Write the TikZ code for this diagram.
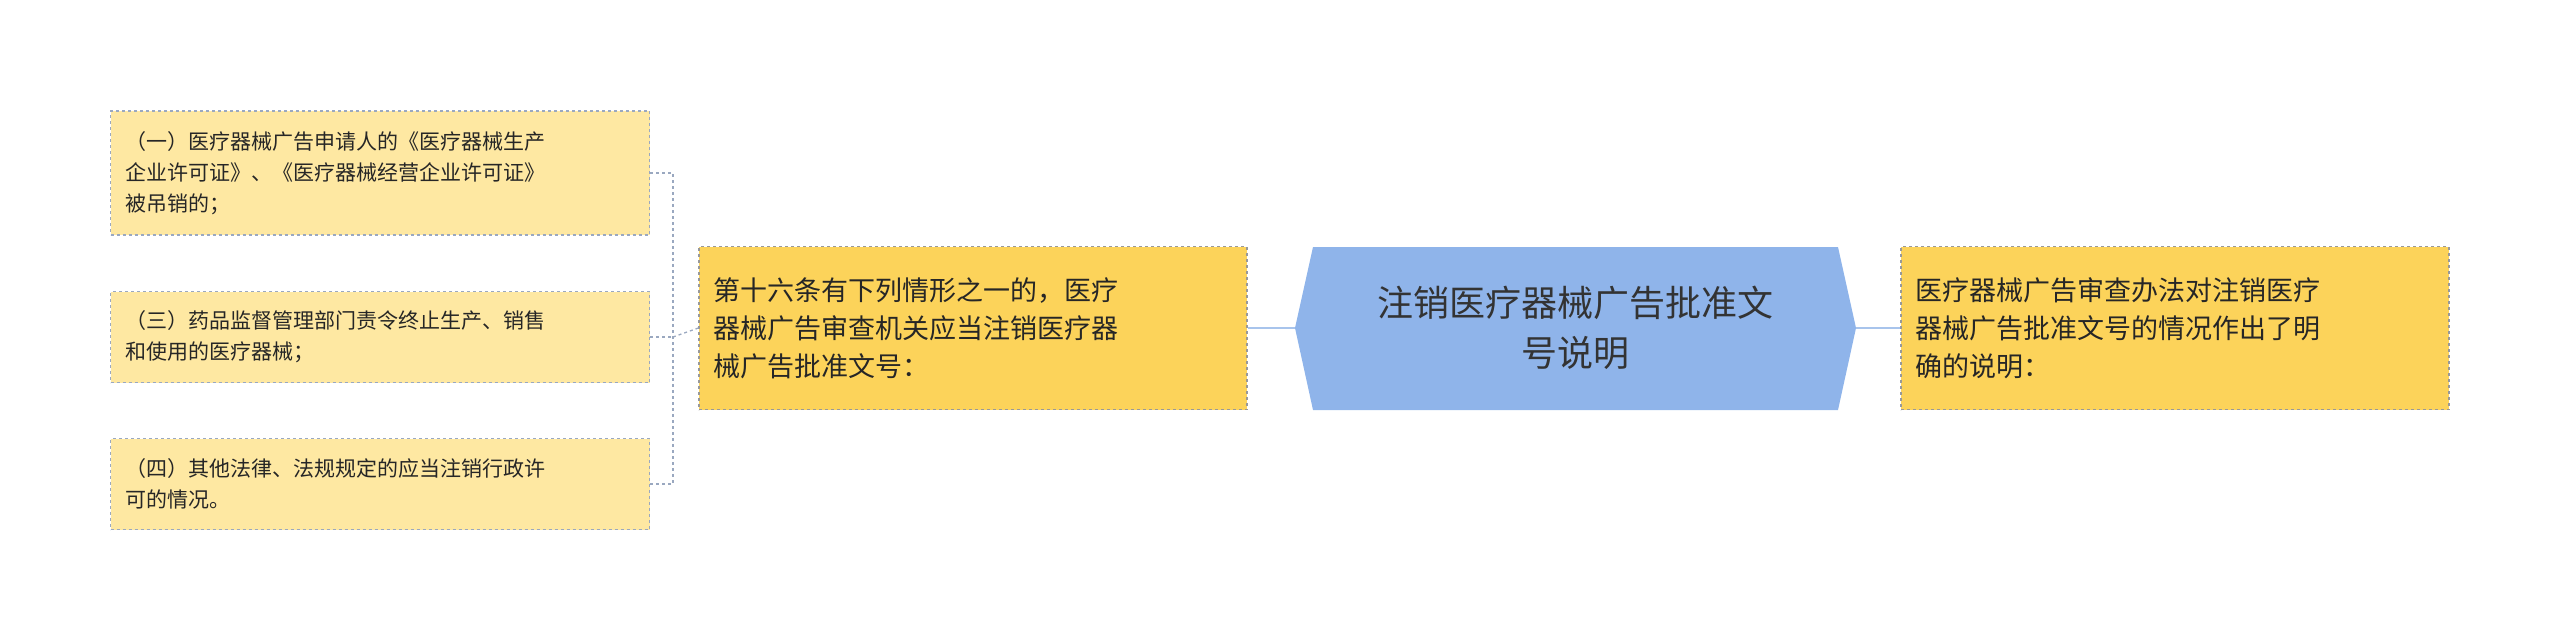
\documentclass[tikz,border=0pt]{standalone}
\usepackage{fontspec}
\setmainfont{Noto Sans CJK SC}
\XeTeXlinebreaklocale "zh"
\XeTeXlinebreakskip = 0pt plus 1pt
\definecolor{cblue}{HTML}{8FB4EA}
\definecolor{cgold}{HTML}{FCD35A}
\definecolor{cleaf}{HTML}{FEE8A2}
\definecolor{cline}{HTML}{A8C4EC}
\definecolor{cdash}{HTML}{9AA8C0}
\begin{document}
\begin{tikzpicture}[x=1pt,y=-1pt,
  gold/.style={draw=gray!80,dashed,fill=cgold,line width=1.3pt,minimum width=548,minimum height=163,text width=520,align=left,font=\fontsize{27}{38}\selectfont,anchor=center,text=black!85},
  leaf/.style={draw=cdash,dashed,fill=cleaf,line width=1.3pt,minimum width=539,text width=510,align=left,font=\fontsize{21}{31}\selectfont,anchor=center,text=black!85},
  conn/.style={draw=cline,line width=2.5pt},
  bconn/.style={draw=cdash,dashed,line width=1.3pt}]
\useasboundingbox (0,0) rectangle (2560,640);
\path[fill=cblue] (1295,328) -- (1313,247) -- (1838,247) -- (1856,328) -- (1838,410) -- (1313,410) -- cycle;
\node (c) [align=center,font=\fontsize{36}{50}\selectfont,text=black!80] at (1575,328) {注销医疗器械广告批准文\\号说明};
\node (r) [gold] at (2175,328) {医疗器械广告审查办法对注销医疗\\器械广告批准文号的情况作出了明\\确的说明：};
\node (m) [gold] at (973,328) {第十六条有下列情形之一的，医疗\\器械广告审查机关应当注销医疗器\\械广告批准文号：};
\node (l1) [leaf,minimum height=124] at (380,173) {（一）医疗器械广告申请人的《医疗器械生产\\企业许可证》、《医疗器械经营企业许可证》\\被吊销的；};
\node (l2) [leaf,minimum height=91] at (380,337) {（三）药品监督管理部门责令终止生产、销售\\和使用的医疗器械；};
\node (l3) [leaf,minimum height=91] at (380,484) {（四）其他法律、法规规定的应当注销行政许\\可的情况。};
\coordinate (s) at (1295,328);
\coordinate (e) at (1856,328);
\draw[conn] (e) -- (r.west);
\draw[conn] (s) -- (m.east);
\coordinate (b) at (673,337);
\draw[bconn] (m.west) -- (b);
\draw[bconn] (l1.east) -| (b);
\draw[bconn] (l3.east) -| (b);
\draw[bconn] (l2.east) -- (b);
\end{tikzpicture}
\end{document}
